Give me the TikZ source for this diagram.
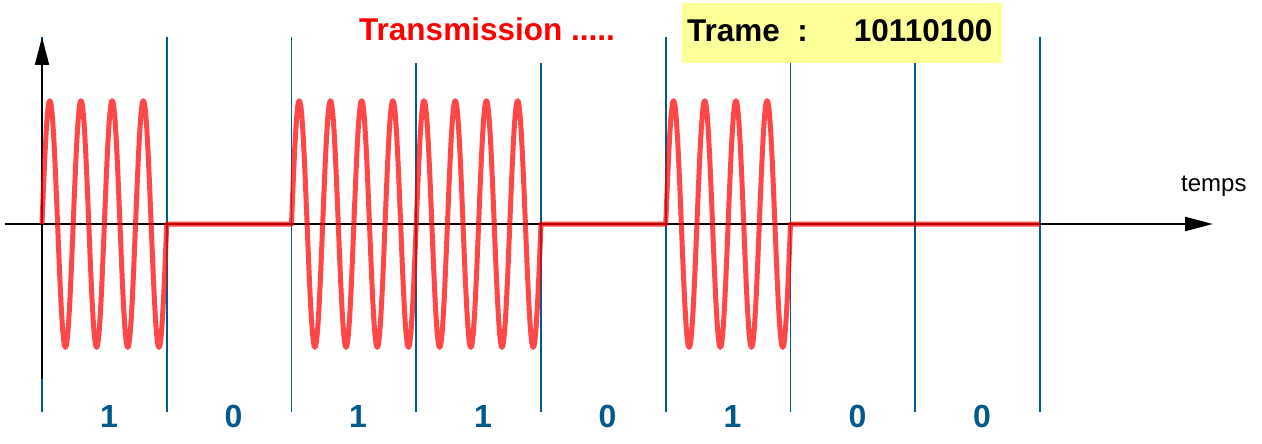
\documentclass[tikz,border=0pt]{standalone}
\usepackage{fontspec}
\setmainfont{Liberation Sans}
\usetikzlibrary{arrows.meta}
\definecolor{bitblue}{RGB}{0,90,140}
\definecolor{trameyellow}{RGB}{255,255,153}
\begin{document}
\begin{tikzpicture}[x=1pt,y=-1pt,
  sepline/.style={draw=bitblue,line width=1.8pt},
  axisline/.style={draw=black,line width=2pt,-{Triangle[length=28pt,width=14pt]}},
  wave/.style={draw=red,draw opacity=0.72,line width=5pt,line join=round},
  bitlabel/.style={text=bitblue,font=\bfseries\fontsize{32}{32}\selectfont,anchor=base,inner sep=0pt},
  ]
\useasboundingbox (0,0) rectangle (1262,444);
% yellow box
\fill[trameyellow] (682,3) rectangle (1002,63);
% separators
\foreach \xx/\top in {42/37,166.75/37,291.5/37,416.25/63,541/63,665.75/37,790.5/63,915.25/63,1040/37}
  \draw[sepline] (\xx,\top) -- (\xx,412);
% axes
\coordinate (xstart) at (5,224);
\coordinate (xend) at (1213,224);
\coordinate (ystart) at (42,379);
\coordinate (yend) at (42,37);
\draw[axisline] (xstart) -- (xend);
\draw[axisline] (ystart) -- (yend);
% waveform
\draw[wave] plot[domain=0:124.75,samples=201] ({42+\x},{224-123.5*sin(11.5431*\x)})
  -- (291.5,224)
  -- plot[domain=0:249.5,samples=401] ({291.5+\x},{224-123.5*sin(11.5431*\x)})
  -- (665.75,224)
  -- plot[domain=0:124.75,samples=201] ({665.75+\x},{224-123.5*sin(11.5431*\x)})
  -- (1040,224);
% texts
\node (title) [anchor=base,inner sep=0pt,text=red,font=\bfseries\fontsize{31.5}{32}\selectfont] at (487,41) {Transmission .....};
\node (trame) [anchor=base west,inner sep=0pt,font=\bfseries\fontsize{31.5}{32}\selectfont] at (687,42) {Trame\hspace{17.5pt}:\hspace{46pt}10110100};
\node (temps) [anchor=base west,inner sep=0pt,font=\fontsize{24}{24}\selectfont] at (1181,191) {temps};
\foreach \cx/\b [count=\i] in {109/1,233.5/0,358/1,483/1,607.5/0,732.5/1,857.5/0,982/0}
  \node (bit\i) [bitlabel] at (\cx,427) {\b};
\end{tikzpicture}
\end{document}
